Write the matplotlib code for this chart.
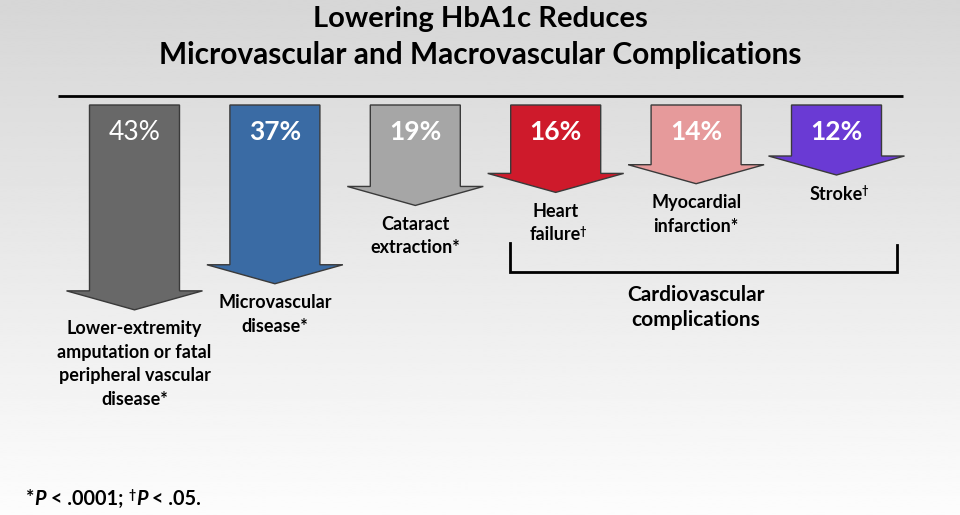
import numpy as np
import matplotlib
matplotlib.use("Agg")
import matplotlib.pyplot as plt
from matplotlib.patches import Polygon

plt.rcParams["font.family"] = ["Lato", "DejaVu Sans"]

# ---------------- data ----------------
title_lines = ["Lowering HbA1c Reduces",
               "Microvascular and Macrovascular Complications"]
categories = [["Lower-extremity", "amputation or fatal", "peripheral vascular", "disease*"],
              ["Microvascular", "disease*"],
              ["Cataract", "extraction*"],
              ["Heart", "failure"],
              ["Myocardial", "infarction*"],
              ["Stroke"]]
dagger = [False, False, False, True, False, True]
reductions = [43, 37, 19, 16, 14, 12]
value_labels = ["43%", "37%", "19%", "16%", "14%", "12%"]
value_bold = [False, True, True, True, True, True]
colors = ["#686868", "#3A6BA4", "#A6A6A6", "#CE1A2B", "#E69A9B", "#6A3AD4"]
group_label = "Cardiovascular\ncomplications"
group_members = [3, 4, 5]

# ---------------- layout ----------------
W, H = 960, 515
fig = plt.figure(figsize=(9.6, 5.15), dpi=100)
ax = fig.add_axes([0, 0, 1, 1])
ax.set_xlim(0, W)
ax.set_ylim(H, 0)
ax.axis("off")

grad = np.linspace(0.84, 0.99, 256)[:, None]
ax.imshow(grad, cmap="gray", vmin=0, vmax=1, extent=[0, W, H, 0],
          aspect="auto", zorder=0, interpolation="bilinear")

# title
ax.text(W / 2, 19, title_lines[0], ha="center", va="center",
        fontsize=21, fontweight="bold", color="black")
ax.text(W / 2, 55, title_lines[1], ha="center", va="center",
        fontsize=21.5, fontweight="bold", color="black")
ax.plot([58, 903], [96, 96], color="black", lw=2, solid_capstyle="butt")

top = 105
x0, dx = 134.5, 140.4
shaft_half, head_half, head_len = 45, 68, 19
px_offset, px_per_pct = 17.8, 4.35
line_h = 23.5

centers = []
for i, (lines, val, vl, col) in enumerate(zip(categories, reductions, value_labels, colors)):
    cx = x0 + dx * i
    centers.append(cx)
    tip = top + px_offset + px_per_pct * val
    base = tip - head_len
    pts = [(cx - shaft_half, top), (cx + shaft_half, top), (cx + shaft_half, base),
           (cx + head_half, base), (cx, tip), (cx - head_half, base),
           (cx - shaft_half, base)]
    ax.add_patch(Polygon(pts, closed=True, facecolor=col, edgecolor="#3a3a3a",
                         lw=1.0, zorder=2))
    ax.text(cx, 132, vl, ha="center", va="center", color="white", fontsize=19,
            fontweight="bold" if value_bold[i] else "normal", zorder=3)
    t = None
    for k, ln in enumerate(lines):
        t = ax.text(cx, tip + 19 + k * line_h, ln, ha="center", va="center",
                    fontsize=13, fontweight="bold", color="black", zorder=3)
    if dagger[i]:
        ax.annotate("\u2020", xy=(1, 0.52), xycoords=t, xytext=(-1, 0),
                    textcoords="offset points", ha="left", va="baseline",
                    fontsize=8, fontweight="bold", color="black")

# bracket
bx0 = centers[group_members[0]] - 46
bx1 = centers[group_members[-1]] + 60
ax.plot([bx0, bx0, bx1, bx1], [243, 272, 272, 245], color="black", lw=2,
        solid_joinstyle="miter")
ax.text(centers[group_members[1]], 285, group_label, ha="center", va="top",
        fontsize=15, fontweight="bold", linespacing=1.3, color="black")

# footnote
fs = 14.3
f1 = ax.text(26, 505, "*", ha="left", va="baseline", fontsize=fs, fontweight="bold")
f2 = ax.annotate("P", xy=(1, 0), xycoords=f1, ha="left", va="bottom",
                 fontsize=fs, fontweight="bold", fontstyle="italic")
f3 = ax.annotate(" < .0001; ", xy=(1, 0), xycoords=f2, ha="left", va="bottom",
                 fontsize=fs, fontweight="bold")
f4 = ax.annotate("\u2020", xy=(1, 0.52), xycoords=f3, ha="left", va="baseline",
                 fontsize=9, fontweight="bold")
f5 = ax.annotate("P", xy=(1, 0), xycoords=f3, xytext=(5.5, 0), textcoords="offset points",
                 ha="left", va="bottom", fontsize=fs, fontweight="bold", fontstyle="italic")
f6 = ax.annotate(" < .05.", xy=(1, 0), xycoords=f5, ha="left", va="bottom",
                 fontsize=fs, fontweight="bold")

fig.savefig("out.png", dpi=100)
